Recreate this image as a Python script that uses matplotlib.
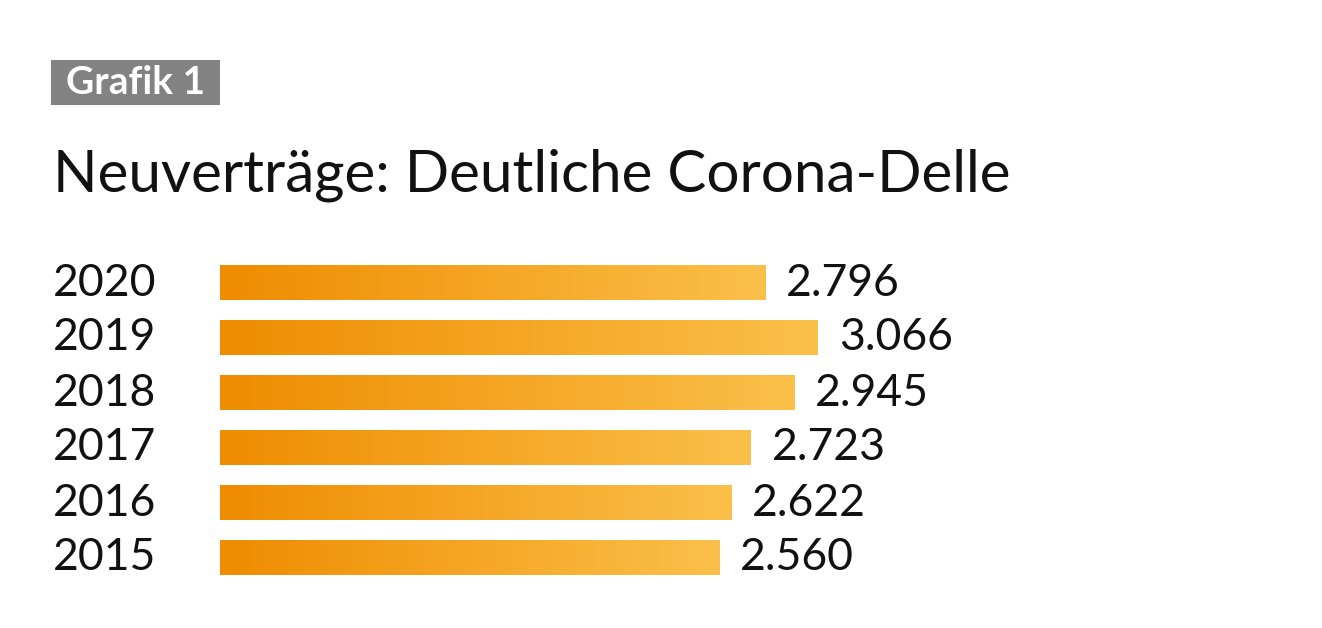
import numpy as np
import matplotlib.pyplot as plt
from matplotlib.colors import LinearSegmentedColormap
from matplotlib.patches import Rectangle

years = ["2015", "2016", "2017", "2018", "2019", "2020"]
values = [2560, 2622, 2723, 2945, 3066, 2796]
labels = ["2.560", "2.622", "2.723", "2.945", "3.066", "2.796"]

title = "Neuverträge: Deutliche Corona-Delle"
tag = "Grafik 1"

W, H = 1322, 628
fig = plt.figure(figsize=(W / 100, H / 100), dpi=100)
fig.patch.set_facecolor("white")

cmap = LinearSegmentedColormap.from_list("orange", ["#ef8c00", "#fbc04a"])
grad = np.linspace(0, 1, 256).reshape(1, -1)

# axes: x=0 at px 220, 0.195 px per unit
left_px, bottom_px, top_px = 220, 42.5, 372.5
ax = fig.add_axes([left_px / W, bottom_px / H, 975 / W, (top_px - bottom_px) / H])

bar_h = 0.62
for i, (v, lab) in enumerate(zip(values, labels)):
    ax.imshow(grad, cmap=cmap, aspect="auto", interpolation="bilinear",
              extent=(0, v, i - bar_h / 2, i + bar_h / 2))
    ax.annotate(lab, (v, i), xytext=(15, 0), textcoords="offset points",
                va="center", ha="left", fontsize=32, family="Lato",
                color="#111111")
    ax.annotate(years[i], (0, i), xytext=(-167 * 0.72, 0), textcoords="offset points",
                va="center", ha="left", fontsize=32, family="Lato",
                color="#111111")
ax.set_xlim(0, 975 / 0.195)
ax.set_ylim(-0.5, 5.5)
ax.axis("off")

# header tag box
fig.patches.append(Rectangle((51 / W, 1 - 105 / H), 169 / W, 45 / H,
                             transform=fig.transFigure, facecolor="#828282",
                             edgecolor="none"))
fig.text(136 / W, 1 - 83 / H, tag, ha="center", va="center", fontsize=28,
         family="Lato", fontweight="bold", color="white")

fig.text(53 / W, 1 - 192 / H, title, ha="left", va="baseline", fontsize=42,
         family="Lato", color="#111111")

fig.savefig("out.png", dpi=100)
